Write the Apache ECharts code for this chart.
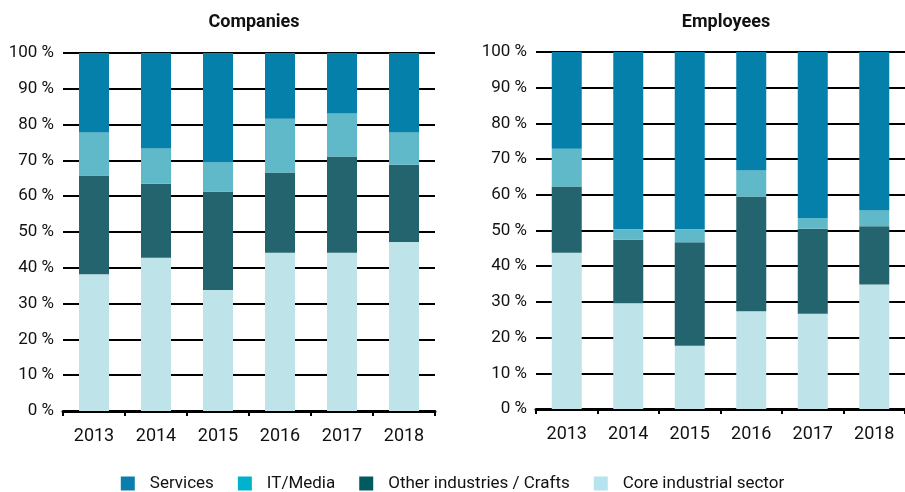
<!DOCTYPE html>
<html>
<head>
<meta charset="utf-8">
<script src="https://cdn.jsdelivr.net/npm/echarts@6/dist/echarts.min.js"></script>
<style>
html,body{margin:0;padding:0;background:#fff;}
#chart{width:905px;height:492px;}
</style>
</head>
<body>
<div id="chart"></div>
<script>
var years=['2013','2014','2015','2016','2017','2018'];
var seriesNames=['Services','IT/Media','Other industries / Crafts','Core industrial sector'];
// shares in %
var compCore=[38.2,42.8,33.8,44.2,44.2,47.2];
var compOther=[27.6,20.7,27.4,22.4,26.9,21.6];
var compIT=[12.0,9.8,8.3,15.0,12.0,9.0];
var compServices=[22.2,26.7,30.5,18.4,16.9,22.2];
var empCore=[43.8,29.6,17.7,27.4,26.7,34.9];
var empOther=[18.5,17.8,29.0,32.1,23.8,16.3];
var empIT=[10.6,3.0,3.7,7.4,3.0,4.5];
var empServices=[27.1,49.6,49.6,33.1,46.5,44.3];

var barColors=['#0580ab','#5fb9c9','#24646e','#bee3e9'];
var legendColors=['#0a7fad','#00b2cc','#005a5f','#b5e4ee'];
var font='Roboto,"Liberation Sans",sans-serif';

var myChart=echarts.init(document.getElementById('chart'));

function xAx(gi){
	return {
		type:'category',gridIndex:gi,data:years,
		axisLine:{lineStyle:{color:'#000',width:3}},
		axisTick:{show:true,length:5,lineStyle:{color:'#000',width:2}},
		axisLabel:{color:'#111',fontSize:18,fontFamily:font,margin:16}
	};
}
function yAx(gi){
	return {
		type:'value',gridIndex:gi,min:0,max:100,interval:10,
		axisLine:{show:false},axisTick:{show:false},
		splitLine:{lineStyle:{color:'#000',width:2}},
		axisLabel:{color:'#111',fontSize:17,fontFamily:font,margin:9,formatter:'{value} %'}
	};
}
function bars(gi,core,other,it,serv){
	var data=[serv,it,other,core];
	var out=[];
	//堆叠顺序: core在下, services在上
	for(var i=3;i>=0;i--){
		out.push({
			type:'bar',name:seriesNames[i],stack:'s'+gi,
			xAxisIndex:gi,yAxisIndex:gi,barWidth:30,
			itemStyle:{color:barColors[i]},
			data:data[i]
		});
	}
	return out;
}

var option={
	animation:false,
	title:[
		{text:'Companies',left:249,top:8,textAlign:'center',
			textStyle:{fontSize:18,fontWeight:'bold',fontFamily:font,color:'#111'}},
		{text:'Employees',left:721,top:8,textAlign:'center',
			textStyle:{fontSize:18,fontWeight:'bold',fontFamily:font,color:'#111'}}
	],
	grid:[
		{left:63,right:470,top:53,bottom:81},
		{left:536,right:-2,top:52,bottom:83}
	],
	legend:{
		top:475,left:'center',padding:0,itemWidth:14,itemHeight:14,itemGap:24,
		icon:'rect',
		textStyle:{fontSize:17,fontFamily:font,color:'#111',padding:[0,0,0,10]},
		data:seriesNames.map(function(n,i){
			return {name:n,itemStyle:{color:legendColors[i]}};
		})
	},
	xAxis:[xAx(0),xAx(1)],
	yAxis:[yAx(0),yAx(1)],
	series:bars(0,compCore,compOther,compIT,compServices).concat(bars(1,empCore,empOther,empIT,empServices))
};
myChart.setOption(option);
</script>
</body>
</html>
